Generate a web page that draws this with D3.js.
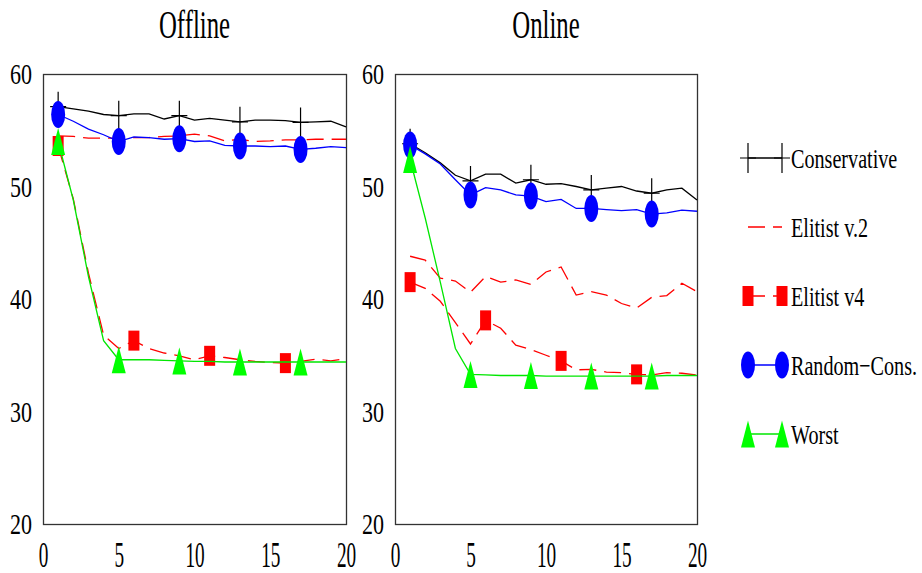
<!DOCTYPE html>
<html>
<head>
<meta charset="utf-8">
<script src="https://cdn.jsdelivr.net/npm/d3@7"></script>
<style>
  body { margin: 0; background: #fff; }
  svg { display: block; }
  text { font-family: 'Liberation Serif', 'Times New Roman', serif; }
</style>
</head>
<body>
<script>

// ---- data ----
var iterations = [1, 2, 3, 4, 5, 6, 7, 8, 9, 10, 11, 12, 13, 14, 15, 16, 17, 18, 19, 20]
var y_ticks = [20, 30, 40, 50, 60]
var x_ticks = [0, 5, 10, 15, 20]
var marker_iters = [1, 5, 9, 13, 17]
var marker_iters_v4 = [1, 6, 11, 16]
var panel_titles = ["Offline", "Online"]
var series_names = ["Conservative", "Elitist v.2", "Elitist v4", "Random\u2212Cons.", "Worst"]

var offline_conservative = [57.1, 56.9, 56.7, 56.4, 56.3, 56.45, 56.45, 56.0, 56.3, 55.9, 56.05, 55.9, 55.75, 55.9, 55.9, 55.85, 55.7, 55.75, 55.8, 55.3]
var offline_elitist2 = [54.5, 54.45, 54.3, 54.3, 54.3, 54.35, 54.35, 54.45, 54.5, 54.65, 54.5, 54.05, 54.2, 54.0, 54.05, 54.15, 54.15, 54.2, 54.2, 54.2]
var offline_elitist4 = [53.6, 48.9, 42.3, 36.8, 35.6, 36.3, 35.6, 35.2, 34.95, 34.6, 34.95, 34.8, 34.6, 34.45, 34.35, 34.3, 34.45, 34.65, 34.5, 34.7]
var offline_random = [56.4, 55.8, 55.1, 54.6, 54.0, 54.4, 54.35, 54.2, 54.25, 54.0, 54.05, 53.65, 53.6, 53.6, 53.55, 53.6, 53.3, 53.4, 53.55, 53.45]
var offline_worst = [54.0, 48.8, 42.0, 36.3, 34.6, 34.6, 34.6, 34.55, 34.5, 34.45, 34.45, 34.4, 34.4, 34.4, 34.4, 34.4, 34.4, 34.4, 34.4, 34.4]

var online_conservative = [53.8, 53.0, 52.1, 51.0, 50.5, 51.1, 51.1, 50.3, 50.6, 50.2, 50.25, 50.0, 49.7, 49.85, 50.0, 49.6, 49.4, 49.7, 49.85, 48.8]
var online_elitist2 = [43.8, 43.45, 41.85, 41.6, 40.6, 42.0, 41.5, 41.7, 41.3, 42.4, 42.85, 40.35, 40.65, 40.35, 39.6, 39.2, 40.15, 40.3, 41.4, 40.65]
var online_elitist4 = [41.5, 40.95, 39.8, 37.9, 36.0, 38.1, 37.4, 35.9, 35.5, 35.0, 34.5, 33.7, 33.75, 33.5, 33.45, 33.3, 33.25, 33.45, 33.4, 33.25]
var online_random = [53.7, 52.9, 52.0, 50.6, 49.25, 49.9, 49.7, 49.25, 49.15, 48.65, 48.85, 48.05, 48.05, 47.95, 47.85, 47.95, 47.55, 47.65, 47.9, 47.8]
var online_worst = [52.4, 47.2, 41.5, 35.6, 33.3, 33.25, 33.2, 33.2, 33.2, 33.15, 33.15, 33.15, 33.15, 33.15, 33.15, 33.15, 33.15, 33.2, 33.2, 33.2]

// ---- styles ----
var series_styles = [
  {color: "#000000", dash: null, marker: "plus", marks: marker_iters},
  {color: "#ff0000", dash: "17,8", marker: null, marks: []},
  {color: "#ff0000", dash: "17,8", marker: "square", marks: marker_iters_v4},
  {color: "#0000ff", dash: null, marker: "circle", marks: marker_iters},
  {color: "#00e600", dash: null, marker: "triangle", marks: marker_iters}
]
var marker_fill = {square: "#ff0000", circle: "#0000ff", triangle: "#00ff00"}

var panels = [
  {left: 43, right: 346, series: [offline_conservative, offline_elitist2, offline_elitist4, offline_random, offline_worst]},
  {left: 395, right: 697, series: [online_conservative, online_elitist2, online_elitist4, online_random, online_worst]}
]
var top_y = 74, bottom_y = 524
var serif = "'Liberation Serif', 'Times New Roman', serif"

var svg = d3.select("body").append("svg")
  .attr("width", 922)
  .attr("height", 573)

function draw_marker(g, type, color){
  if (type == "plus") {
    g.append("path")
      .attr("d", "M-8,0H8M0,-15V15")
      .attr("stroke", color)
      .attr("stroke-width", 1.2)
      .attr("fill", "none")
  } else if (type == "square") {
    g.append("rect")
      .attr("x", -5.5).attr("y", -10)
      .attr("width", 11).attr("height", 20)
      .attr("fill", marker_fill.square)
  } else if (type == "circle") {
    g.append("ellipse")
      .attr("rx", 7).attr("ry", 13.5)
      .attr("fill", marker_fill.circle)
  } else if (type == "triangle") {
    g.append("path")
      .attr("d", "M0,-13.5L7,13.5L-7,13.5Z")
      .attr("fill", marker_fill.triangle)
  }
}

function draw_panel(panel, i){
  var x = d3.scaleLinear().domain([0, 20]).range([panel.left, panel.right])
  var y = d3.scaleLinear().domain([20, 60]).range([bottom_y, top_y])
  var g = svg.append("g")

  // frame
  g.append("rect")
    .attr("x", panel.left + 0.5)
    .attr("y", top_y + 0.5)
    .attr("width", panel.right - panel.left)
    .attr("height", bottom_y - top_y)
    .attr("fill", "none")
    .attr("stroke", "#333")
    .attr("stroke-width", 1.3)

  // axes, no tick marks, condensed serif labels
  var ya = g.append("g")
    .attr("transform", "translate(" + panel.left + ",0)")
    .call(d3.axisLeft(y).tickValues(y_ticks).tickSize(0).tickFormat(d3.format("d")))
  ya.select(".domain").remove()
  ya.selectAll("text")
    .style("font-family", serif)
    .attr("font-size", 29)
    .attr("fill", "#000")
    .attr("x", -11 / 0.76)
    .attr("dy", "0.33em")
    .attr("transform", "scale(0.76,1)")

  var xa = g.append("g")
    .attr("transform", "translate(0," + bottom_y + ")")
    .call(d3.axisBottom(x).tickValues(x_ticks).tickSize(0).tickFormat(d3.format("d")))
  xa.select(".domain").remove()
  xa.selectAll("text")
    .style("font-family", serif)
    .attr("font-size", 35)
    .attr("fill", "#000")
    .attr("y", 43)
    .attr("dy", 0)
    .attr("transform", "scale(0.55,1)")

  // title
  g.append("text")
    .attr("transform", "translate(" + ((panel.left + panel.right) / 2) + ",38) scale(0.62,1)")
    .attr("text-anchor", "middle")
    .style("font-family", serif)
    .attr("font-size", 40)
    .text(panel_titles[i])

  var line = d3.line()
    .x(function(d, k){ return x(iterations[k]) })
    .y(function(d){ return y(d) })

  panel.series.forEach(function(values, s){
    var st = series_styles[s]
    g.append("path")
      .datum(values)
      .attr("d", line)
      .attr("fill", "none")
      .attr("stroke", st.color)
      .attr("stroke-width", 1.3)
      .attr("stroke-dasharray", st.dash)
    st.marks.forEach(function(it){
      var k = iterations.indexOf(it)
      var m = g.append("g").attr("transform", "translate(" + x(it) + "," + y(values[k]) + ")")
      draw_marker(m, st.marker, st.color)
    })
  })
}

panels.forEach(draw_panel)

// legend
var legend_y = [158, 227, 296, 365, 434]
series_names.forEach(function(name, s){
  var st = series_styles[s]
  var g = svg.append("g").attr("transform", "translate(0," + legend_y[s] + ")")
  g.append("line")
    .attr("x1", 748).attr("x2", 782)
    .attr("stroke", st.color)
    .attr("stroke-width", 1.3)
    .attr("stroke-dasharray", st.dash)
  if (st.marker) {
    [748, 782].forEach(function(mx){
      draw_marker(g.append("g").attr("transform", "translate(" + mx + ",0)"), st.marker, st.color)
    })
  }
  g.append("text")
    .attr("transform", "translate(791,9.5) scale(0.72,1)")
    .style("font-family", serif)
    .attr("font-size", 28)
    .text(name)
})

</script>
</body>
</html>
